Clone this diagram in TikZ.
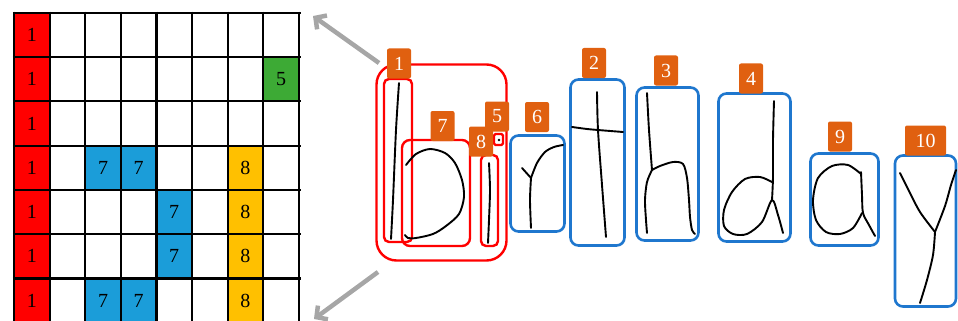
\documentclass[tikz,border=0pt]{standalone}
\usepackage{fontspec}
\setmainfont{Liberation Serif}
\usetikzlibrary{arrows.meta}
\definecolor{cellred}{RGB}{255,0,0}
\definecolor{cellgreen}{RGB}{61,170,53}
\definecolor{cellblue}{RGB}{27,157,217}
\definecolor{cellyellow}{RGB}{255,192,0}
\definecolor{tagorange}{RGB}{224,96,16}
\definecolor{boxblue}{RGB}{31,119,206}
\definecolor{arrowgray}{RGB}{166,166,166}
\tikzset{
  cell/.style={minimum width=35.6pt, minimum height=44.3pt, inner sep=0pt,
    font=\fontsize{20}{20}\selectfont},
  gridline/.style={line width=2.2pt, black},
  redbox/.style={draw=cellred, line width=2.4pt, rounded corners=5pt, inner sep=0pt},
  bluebox/.style={draw=boxblue, line width=2.6pt, rounded corners=8pt, inner sep=0pt},
  tag/.style={fill=tagorange, text=white, rounded corners=2pt, inner sep=0pt,
    minimum width=24pt, minimum height=30pt, font=\fontsize{20}{20}\selectfont},
  ink/.style={line width=1.9pt, black, line cap=round, line join=round},
  pointer/.style={line width=4.5pt, arrowgray,
    -{Straight Barb[length=8pt, width=17pt]}}
}
\begin{document}
\begin{tikzpicture}[x=1pt, y=-1pt]
\useasboundingbox (0,0) rectangle (958,321);

% ---- label grid ----
\foreach \r in {0,...,6}
  \node[cell, fill=cellred] (g\r-0) at ({14+35.6*0.5},{12.7+44.3*(\r+0.5)}) {1};
\node[cell, fill=cellgreen] (g1-7) at ({14+35.6*7.5},{12.7+44.3*1.5}) {5};
\foreach \r/\c in {3/2,3/3,4/4,5/4,6/2,6/3}
  \node[cell, fill=cellblue] (g\r-\c) at ({14+35.6*(\c+0.5)},{12.7+44.3*(\r+0.5)}) {7};
\foreach \r in {3,...,6}
  \node[cell, fill=cellyellow] (g\r-6) at ({14+35.6*6.5},{12.7+44.3*(\r+0.5)}) {8};
\foreach \i in {0,...,8}
  \draw[gridline] ({14+35.6*\i},11.6) -- ({14+35.6*\i},330);
\foreach \j in {0,...,7}
  \draw[gridline] (12.9,{12.7+44.3*\j}) -- (301,{12.7+44.3*\j});

% ---- pointers from the word to the grid ----
\coordinate (upTail) at (379,63);
\coordinate (upHead) at (313,16);
\coordinate (dnTail) at (378,272);
\coordinate (dnHead) at (314,319);
\draw[pointer] (upTail) -- (upHead);
\draw[pointer] (dnTail) -- (dnHead);

% ---- red group: "b" and "i" ----
\node[redbox, rounded corners=20pt, minimum width=130pt, minimum height=196pt] (grp) at (441.5,162.5) {};
\node[redbox, minimum width=28pt, minimum height=163pt] (b1) at (398,160.5) {};
\node[redbox, rounded corners=8pt, minimum width=68pt, minimum height=106pt] (b7) at (436,193) {};
\node[redbox, minimum width=17pt, minimum height=91pt] (b8) at (489.5,200.5) {};
\node[redbox, rounded corners=1.5pt, minimum width=9pt, minimum height=11pt] (b5) at (498.5,139.5) {};

% ---- blue boxes ----
\node[bluebox, minimum width=54pt, minimum height=96pt] (b6) at (537.5,183.5) {};
\node[bluebox, minimum width=54pt, minimum height=166pt] (b2) at (597.5,162.5) {};
\node[bluebox, minimum width=62pt, minimum height=153pt] (b3) at (667.5,164) {};
\node[bluebox, minimum width=72pt, minimum height=148pt] (b4) at (754.5,167.5) {};
\node[bluebox, minimum width=68pt, minimum height=92pt] (b9) at (844.5,199.5) {};
\node[bluebox, minimum width=61pt, minimum height=151pt] (b10) at (925.5,231) {};

% ---- handwriting ----
% b: stem and bowl
\draw[ink] plot[smooth] coordinates {(399,83) (396,130) (393,200) (391,239)};
\draw[ink] plot[smooth] coordinates {(406,165) (416,154) (430,149) (445,153) (455,163) (462,180) (464,197) (459,214) (446,226) (433,234) (416,238) (408,238) (405,235)};
% i: stem and dot
\draw[ink] plot[smooth] coordinates {(489,163) (490,190) (489,220) (488,243)};
\fill[black] (499,140) circle (1.3pt);
% r
\draw[ink] plot[smooth] coordinates {(531,228) (530,200) (531,178)};
\draw[ink] (522,168) -- (531,178);
\draw[ink] plot[smooth] coordinates {(531,178) (537,163) (545,152) (554,147) (563,145)};
% t
\draw[ink] plot[smooth] coordinates {(597,92) (598,130) (602,185) (606,237)};
\draw[ink] plot[smooth] coordinates {(572,127) (587,129) (598,130) (623,132)};
% h
\draw[ink] plot[smooth] coordinates {(647,93) (649,130) (652,170)};
\draw[ink] plot[smooth] coordinates {(652,170) (647,182) (645,200) (646,220) (647,233)};
\draw[ink] plot[smooth] coordinates {(652,170) (660,166) (673,162) (683,164) (687,178) (689,200) (690,217) (692,230) (695,234)};
% d
\draw[ink] plot[smooth] coordinates {(774,101) (773,140) (773,177) (772,200)};
\draw[ink] plot[smooth] coordinates {(772,182) (760,177) (745,179) (732,192) (724,210) (724,226) (733,234) (747,234) (762,222) (772,200) (778,215) (783,233)};
% a
\draw[ink] plot[smooth] coordinates {(861,174) (848,165) (832,166) (818,178) (813,200) (816,220) (826,232) (840,234) (853,228) (862,213)};
\draw[ink] plot[smooth] coordinates {(861,172) (862,195) (863,213) (869,225) (875,236)};
% y
\draw[ink] plot[smooth] coordinates {(900,173) (909,191) (920,212) (935,232)};
\draw[ink] plot[smooth] coordinates {(956,170) (951,185) (945,206) (935,232)};
\draw[ink] plot[smooth] coordinates {(935,232) (933,255) (927,280) (920,303)};

% ---- order tags ----
\node[tag] (t1) at (399,63.5) {1};
\node[tag] (t7) at (442.5,126) {7};
\node[tag] (t5) at (497,116.5) {5};
\node[tag] (t8) at (481,141.5) {8};
\node[tag] (t6) at (537,117) {6};
\node[tag] (t2) at (594,63) {2};
\node[tag] (t3) at (666,70.5) {3};
\node[tag] (t4) at (751,78.5) {4};
\node[tag] (t9) at (840,136.5) {9};
\node[tag, minimum width=41pt] (t10) at (925.5,140.5) {10};
\end{tikzpicture}
\end{document}
